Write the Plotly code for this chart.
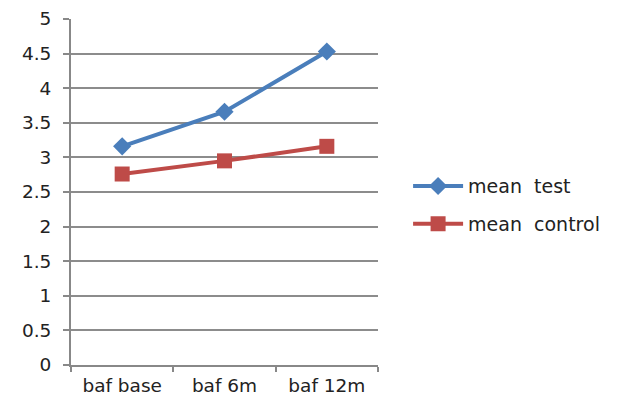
import plotly.graph_objects as go

categories = ["baf base", "baf 6m", "baf 12m"]
mean_test = [3.16, 3.66, 4.53]
mean_control = [2.76, 2.95, 3.16]
y_ticks = [0, 0.5, 1, 1.5, 2, 2.5, 3, 3.5, 4, 4.5, 5]

fig = go.Figure()
fig.add_trace(go.Scatter(x=categories, y=mean_test, name="mean  test", mode="lines+markers",
                         legendgroup="a",
                         line=dict(color="#4a7ebb", width=4),
                         marker=dict(symbol="diamond", size=14, color="#4a7ebb")))
fig.add_trace(go.Scatter(x=categories, y=mean_control, name="mean  control", mode="lines+markers",
                         legendgroup="b",
                         line=dict(color="#be4b48", width=4),
                         marker=dict(symbol="square", size=15, color="#be4b48")))

font = dict(family="DejaVu Sans, sans-serif", size=18.5, color="#222222")
fig.update_layout(
    width=620, height=403,
    margin=dict(l=63, r=250, t=11, b=46, autoexpand=False),
    paper_bgcolor="white", plot_bgcolor="white",
    font=font,
    legend=dict(x=1.098, y=0.462, xanchor="left", yanchor="middle",
                font=dict(size=19), traceorder="grouped", tracegroupgap=10,
                itemwidth=50, bgcolor="rgba(0,0,0,0)"),
    xaxis=dict(type="category", range=[-0.5, 2.5], showgrid=False, automargin=False,
               showline=True, linecolor="#888888", linewidth=2,
               ticks="outside", tickson="boundaries", ticklen=5, tickcolor="#888888", tickwidth=2,
               tickfont=font, ticklabelstandoff=3),
    yaxis=dict(range=[0, 5], tickvals=y_ticks, ticktext=[f"{v:g}" for v in y_ticks],
               showgrid=True, gridcolor="#8c8c8c", gridwidth=2, automargin=False,
               showline=True, linecolor="#888888", linewidth=2,
               ticks="outside", ticklen=6, tickcolor="#888888", tickwidth=2,
               zeroline=False, tickfont=font, ticklabelstandoff=8),
)
fig.write_html("out.html")
